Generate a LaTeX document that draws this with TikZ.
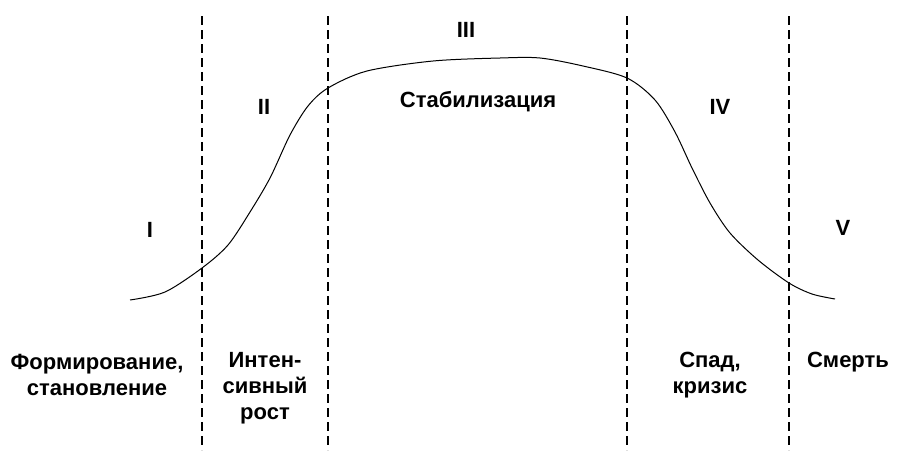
\documentclass[tikz,border=0pt]{standalone}
\usepackage{fontspec}
\setmainfont{Liberation Sans}
\usetikzlibrary{positioning}
\tikzset{
  stage/.style={font=\fontsize{22}{26}\selectfont\bfseries, align=center, inner sep=0pt},
  bound/.style={black, line width=1.2pt, dash pattern=on 9pt off 5pt},
  lifecurve/.style={black, line width=1pt},
}
\begin{document}
\begin{tikzpicture}[x=1pt, y=-1pt]
    \useasboundingbox (0,0) rectangle (899,450);
    % stage boundaries
    \foreach \xb/\nm in {202/b1, 328/b2, 627/b3, 789/b4} {
      \coordinate (\nm top) at (\xb,16);
      \coordinate (\nm bot) at (\xb,450);
      \draw[bound] (\nm top) -- (\nm bot);
    }
    % life cycle curve
    \draw[lifecurve] plot[smooth, tension=0.5] coordinates {
      (130,300) (165,292) (202,268) (228,245) (250,212) (270,178)
      (290,135) (308,106) (328,88) (367,71) (433,61) (500,58)
      (540,58) (583,66) (627,78) (655,100) (675,132) (692,168)
      (710,203) (730,233) (758,260) (789,283) (812,294) (835,299)};
    \node[stage] (s1) at (150,230) {I};
    \node[stage] (s2) at (264,107) {II};
    \node[stage] (s3) at (466,30) {III};
    \node[stage] (s3txt) at (478,102) {Стабилизация};
    \node[stage] (s4) at (720,107) {IV};
    \node[stage] (s5) at (843,228) {V};
    \node[stage] (l1) at (97,375) {Формирование,\\становление};
    \node[stage] (l2) at (265,388) {Интен-\\сивный\\рост};
    \node[stage] (l4) at (710,375) {Спад,\\кризис};
    \node[stage] (l5) at (848,362) {Смерть};
  \end{tikzpicture}
\end{document}
